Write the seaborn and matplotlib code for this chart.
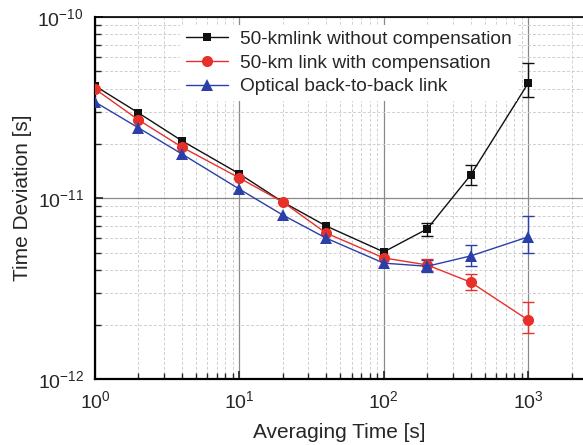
import matplotlib
matplotlib.use("Agg")
import matplotlib.pyplot as plt
import seaborn as sns
import pandas as pd
import numpy as np

# averaging times [s]
tau = [1, 2, 4, 10, 20, 40, 100, 200, 400, 1000]

# time deviation [s]
no_comp = [4.16e-11, 2.95e-11, 2.07e-11, 1.36e-11, 9.5e-12, 7.0e-12, 5.04e-12, 6.75e-12, 1.34e-11, 4.3e-11]
with_comp = [4.0e-11, 2.70e-11, 1.91e-11, 1.29e-11, 9.5e-12, 6.4e-12, 4.67e-12, 4.27e-12, 3.43e-12, 2.12e-12]
b2b = [3.39e-11, 2.44e-11, 1.75e-11, 1.12e-11, 8.05e-12, 6.0e-12, 4.37e-12, 4.2e-12, 4.79e-12, 6.1e-12]

# error bars at tau = 200, 400, 1000 (lower, upper)
err_tau = [200, 400, 1000]
no_comp_lo = [6.2e-12, 1.18e-11, 3.6e-11]
no_comp_hi = [7.3e-12, 1.53e-11, 5.57e-11]
with_comp_lo = [3.95e-12, 3.1e-12, 1.8e-12]
with_comp_hi = [4.6e-12, 3.8e-12, 2.66e-12]
b2b_lo = [3.9e-12, 4.2e-12, 5.0e-12]
b2b_hi = [4.55e-12, 5.5e-12, 8.0e-12]

labels = ["50-kmlink without compensation", "50-km link with compensation",
          "Optical back-to-back link"]
colors = ["#111111", "#e8302a", "#2b3fa8"]
markers = ["s", "o", "^"]
msizes = [6, 8, 8.5]

sns.set_style("white")
plt.rcParams['font.family'] = ['Liberation Sans', 'DejaVu Sans']
plt.rcParams['mathtext.fontset'] = 'custom'
plt.rcParams['mathtext.rm'] = 'Liberation Sans'
plt.rcParams['mathtext.it'] = 'Liberation Sans'

df = pd.DataFrame({
    "tau": tau * 3,
    "tdev": no_comp + with_comp + b2b,
    "series": [labels[0]] * len(tau) + [labels[1]] * len(tau) + [labels[2]] * len(tau),
})

fig = plt.figure(figsize=(5.83, 4.45), dpi=100)
ax = fig.add_axes([0.163, 0.148, 0.837, 0.814])
ax.set_xscale("log")
ax.set_yscale("log")

ax.grid(True, which="major", color="#8a8a8a", lw=0.9, ls="-", zorder=0)
ax.grid(True, which="minor", color="#cfcfcf", lw=0.7, ls=(0, (3, 2)), zorder=0)

sns.lineplot(data=df, x="tau", y="tdev", hue="series", style="series",
             palette=colors, markers=markers, dashes=False, ax=ax,
             linewidth=1.0, markeredgewidth=0, zorder=3)
for line, ms in zip(ax.lines, msizes):
    line.set_markersize(ms)

lo_all = [no_comp_lo, with_comp_lo, b2b_lo]
hi_all = [no_comp_hi, with_comp_hi, b2b_hi]
vals_all = [no_comp, with_comp, b2b]
for vals, lo, hi, c in zip(vals_all, lo_all, hi_all, colors):
    y = np.array(vals[-3:])
    yerr = [y - np.array(lo), np.array(hi) - y]
    ax.errorbar(err_tau, y, yerr=yerr, fmt="none", ecolor=c, elinewidth=1.0,
                capsize=4, capthick=1.0, zorder=2)

ax.set_xlim(1, 2400)
ax.set_ylim(1e-12, 1e-10)
ax.set_yticks([1e-12, 1e-11, 1e-10])
ax.set_xticks([1, 10, 100, 1000])

ax.set_xlabel("Averaging Time [s]", fontsize=15, labelpad=8)
ax.set_ylabel("Time Deviation [s]", fontsize=15, labelpad=4)
ax.tick_params(which="both", direction="in", top=False, right=False,
               bottom=True, left=True, labelsize=14, pad=8)
ax.tick_params(which="major", length=6, width=1.2)
ax.tick_params(which="minor", length=4, width=1.0)

for s in ["left", "bottom"]:
    ax.spines[s].set_linewidth(1.6)
    ax.spines[s].set_color("black")
ax.spines["top"].set_linewidth(1.2)
ax.spines["top"].set_color("black")
ax.spines["right"].set_visible(False)

leg = ax.legend(loc="upper left", bbox_to_anchor=(0.155, 1.005), fontsize=13.8,
                frameon=True, fancybox=False, framealpha=1, edgecolor="white",
                handlelength=2.2, handletextpad=0.6, borderpad=0.3,
                labelspacing=0.33)
leg.get_frame().set_linewidth(0)
leg.set_zorder(5)
for h, ms in zip(leg.legend_handles, msizes):
    h.set_markersize(ms)

fig.savefig("out.png", dpi=100)
